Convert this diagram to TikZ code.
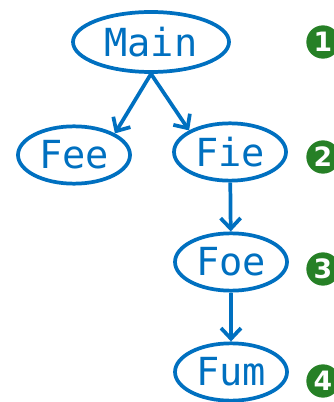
\documentclass[tikz,border=0pt]{standalone}
\usepackage{fontspec}
\setmonofont{DejaVu Sans Mono}
\newfontfamily\numfont{DejaVu Sans}
\usepackage{xcolor}
\usetikzlibrary{arrows.meta,shapes.geometric}
\definecolor{callblue}{RGB}{0,112,192}
\definecolor{stepgreen}{RGB}{38,128,38}

\begin{document}
\begin{tikzpicture}[x=0.75pt, y=-0.75pt,
  fnbox/.style={ellipse, draw=callblue, line width=2.8pt, inner sep=0pt,
    minimum width=84pt, minimum height=43pt, text=callblue,
    font=\ttfamily\fontsize{29}{29}\selectfont},
  stepnum/.style={circle, fill=stepgreen, text=white, inner sep=0pt,
    minimum size=25pt, font=\numfont\bfseries\fontsize{20}{20}\selectfont},
  arr/.style={-{Straight Barb[length=8pt,width=15pt]}, line width=2.8pt, draw=callblue}
]
\useasboundingbox (0,0) rectangle (334,402);

\node[fnbox, minimum width=117pt, minimum height=45pt] (main) at (151,42) {Main};
\node[fnbox] (fee) at (74,155) {Fee};
\node[fnbox] (fie) at (230,152) {Fie};
\node[fnbox] (foe) at (231,262) {Foe};
\node[fnbox] (fum) at (231,372) {Fum};

\draw[arr] (main.south) -- (fee.north east);
\draw[arr] (main.south) -- (fie.north west);
\draw[arr] (fie) -- (foe);
\draw[arr] (foe) -- (fum);

% call order markers, cut by the right edge
\node[stepnum] (s1) at (323,42)  {1};
\node[stepnum] (s2) at (323,157) {2};
\node[stepnum] (s3) at (323,269) {3};
\node[stepnum] (s4) at (323,381) {4};

\end{tikzpicture}
\end{document}
